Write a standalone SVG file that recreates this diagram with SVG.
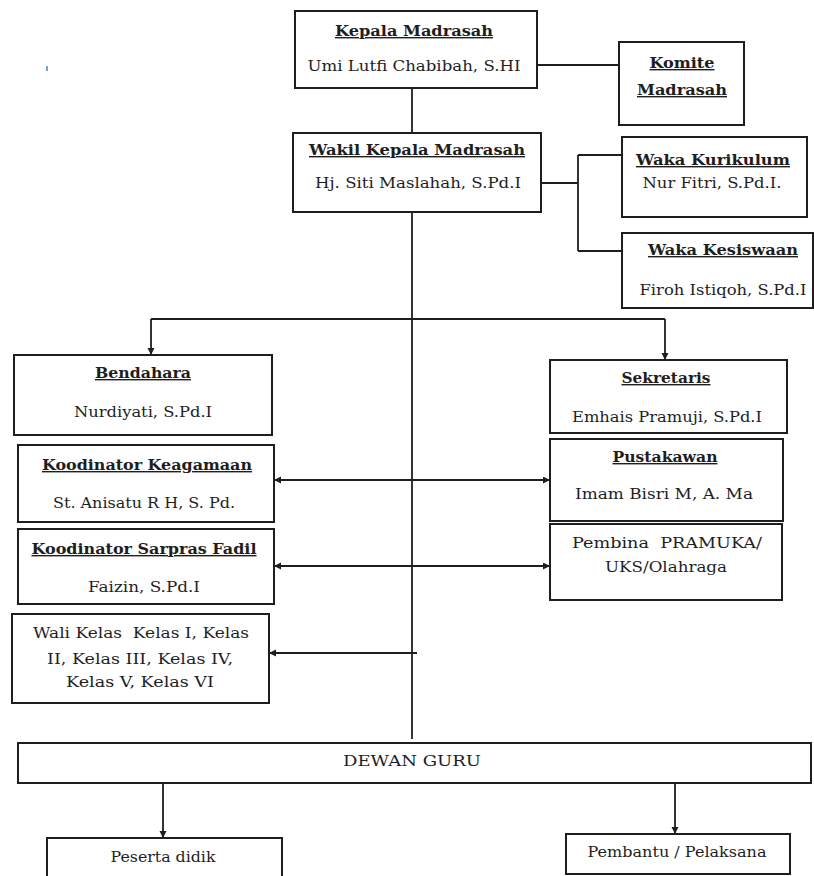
<svg xmlns="http://www.w3.org/2000/svg" width="814" height="876" viewBox="0 0 814 876">
<style>
.box{fill:#fff;stroke:#1e1e1e;stroke-width:2}
.c{fill:none;stroke:#1e1e1e;stroke-width:1.8}
text{font-family:"DejaVu Serif","Liberation Serif",serif;font-size:14px;fill:#1e1e1e;text-anchor:middle}
.h{font-weight:bold;text-decoration:underline}
</style>
<defs>
<marker id="ah" markerUnits="userSpaceOnUse" markerWidth="8" markerHeight="8" refX="7" refY="3.5" orient="auto-start-reverse">
<path d="M0,0 L7,3.5 L0,7 z" fill="#1e1e1e"/>
</marker>
</defs>
<rect x="46" y="66" width="2" height="5" fill="#7f9fdc"/>
<g id="connectors">
<path class="c" d="M412,88 V133"/>
<path class="c" d="M537,65 H619"/>
<path class="c" d="M541,183 H578 M578,155 V251 M578,155 H622 M578,251 H622"/>
<path class="c" d="M412,202 V739"/>
<path class="c" d="M151,319 H665"/>
<path class="c" d="M151,319 V355" marker-end="url(#ah)"/>
<path class="c" d="M665,319 V360" marker-end="url(#ah)"/>
<path class="c" d="M274,480 H550" marker-start="url(#ah)" marker-end="url(#ah)"/>
<path class="c" d="M274,566 H550" marker-start="url(#ah)" marker-end="url(#ah)"/>
<path class="c" d="M417,653 H269" marker-end="url(#ah)"/>
<path class="c" d="M163,783 V838" marker-end="url(#ah)"/>
<path class="c" d="M675,779 V834" marker-end="url(#ah)"/>
</g>
<g id="kepala">
<rect class="box" x="295" y="11" width="242" height="77"/>
<text class="h" x="414" y="36" textLength="158" lengthAdjust="spacingAndGlyphs">Kepala Madrasah</text>
<text x="414" y="71" textLength="213" lengthAdjust="spacingAndGlyphs">Umi Lutfi Chabibah, S.HI</text>
</g>
<g id="komite">
<rect class="box" x="619" y="42" width="125" height="83"/>
<text class="h" x="682" y="68" textLength="65" lengthAdjust="spacingAndGlyphs">Komite</text>
<text class="h" x="682" y="95" textLength="90" lengthAdjust="spacingAndGlyphs">Madrasah</text>
</g>
<g id="wakil">
<rect class="box" x="293" y="133" width="248" height="79"/>
<text class="h" x="417" y="155" textLength="216" lengthAdjust="spacingAndGlyphs">Wakil Kepala Madrasah</text>
<text x="418" y="188" textLength="206" lengthAdjust="spacingAndGlyphs">Hj. Siti Maslahah, S.Pd.I</text>
</g>
<g id="kurikulum">
<rect class="box" x="622" y="137" width="185" height="80"/>
<text class="h" x="713" y="165" textLength="154" lengthAdjust="spacingAndGlyphs">Waka Kurikulum</text>
<text x="712" y="188" textLength="139" lengthAdjust="spacingAndGlyphs">Nur Fitri, S.Pd.I.</text>
</g>
<g id="kesiswaan">
<rect class="box" x="622" y="233" width="191" height="75"/>
<text class="h" x="723" y="255" textLength="150" lengthAdjust="spacingAndGlyphs">Waka Kesiswaan</text>
<text x="723" y="295" textLength="167" lengthAdjust="spacingAndGlyphs">Firoh Istiqoh, S.Pd.I</text>
</g>
<g id="bendahara">
<rect class="box" x="14" y="355" width="258" height="80"/>
<text class="h" x="143" y="378" textLength="96" lengthAdjust="spacingAndGlyphs">Bendahara</text>
<text x="143" y="417" textLength="138" lengthAdjust="spacingAndGlyphs">Nurdiyati, S.Pd.I</text>
</g>
<g id="sekretaris">
<rect class="box" x="550" y="360" width="237" height="73"/>
<text class="h" x="666" y="383" textLength="89" lengthAdjust="spacingAndGlyphs">Sekretaris</text>
<text x="667" y="422" textLength="190" lengthAdjust="spacingAndGlyphs">Emhais Pramuji, S.Pd.I</text>
</g>
<g id="keagamaan">
<rect class="box" x="18" y="445" width="256" height="77"/>
<text class="h" x="147" y="470" textLength="210" lengthAdjust="spacingAndGlyphs">Koodinator Keagamaan</text>
<text x="144" y="508" textLength="182" lengthAdjust="spacingAndGlyphs">St. Anisatu R H, S. Pd.</text>
</g>
<g id="pustakawan">
<rect class="box" x="550" y="439" width="233" height="82"/>
<text class="h" x="665" y="462" textLength="105" lengthAdjust="spacingAndGlyphs">Pustakawan</text>
<text x="664" y="499" textLength="178" lengthAdjust="spacingAndGlyphs">Imam Bisri M, A. Ma</text>
</g>
<g id="sarpras">
<rect class="box" x="18" y="529" width="256" height="75"/>
<text class="h" x="144" y="554" textLength="225" lengthAdjust="spacingAndGlyphs">Koodinator Sarpras Fadil</text>
<text x="144" y="592" textLength="112" lengthAdjust="spacingAndGlyphs">Faizin, S.Pd.I</text>
</g>
<g id="pembina">
<rect class="box" x="550" y="524" width="232" height="76"/>
<text x="667" y="548" textLength="190" lengthAdjust="spacingAndGlyphs" xml:space="preserve">Pembina  PRAMUKA/</text>
<text x="666" y="572" textLength="122" lengthAdjust="spacingAndGlyphs">UKS/Olahraga</text>
</g>
<g id="walikelas">
<rect class="box" x="12" y="614" width="257" height="89"/>
<text x="141" y="638" textLength="216" lengthAdjust="spacingAndGlyphs" xml:space="preserve">Wali Kelas  Kelas I, Kelas</text>
<text x="140" y="664" textLength="186" lengthAdjust="spacingAndGlyphs">II, Kelas III, Kelas IV,</text>
<text x="140" y="687" textLength="148" lengthAdjust="spacingAndGlyphs">Kelas V, Kelas VI</text>
</g>
<g id="dewanguru">
<rect class="box" x="18" y="743" width="793" height="40"/>
<text x="412" y="766" textLength="138" lengthAdjust="spacingAndGlyphs">DEWAN GURU</text>
</g>
<g id="peserta">
<rect class="box" x="47" y="838" width="235" height="50"/>
<text x="163" y="862" textLength="105" lengthAdjust="spacingAndGlyphs">Peserta didik</text>
</g>
<g id="pembantu">
<rect class="box" x="566" y="834" width="224" height="40"/>
<text x="677" y="857" textLength="179" lengthAdjust="spacingAndGlyphs">Pembantu / Pelaksana</text>
</g>
</svg>
